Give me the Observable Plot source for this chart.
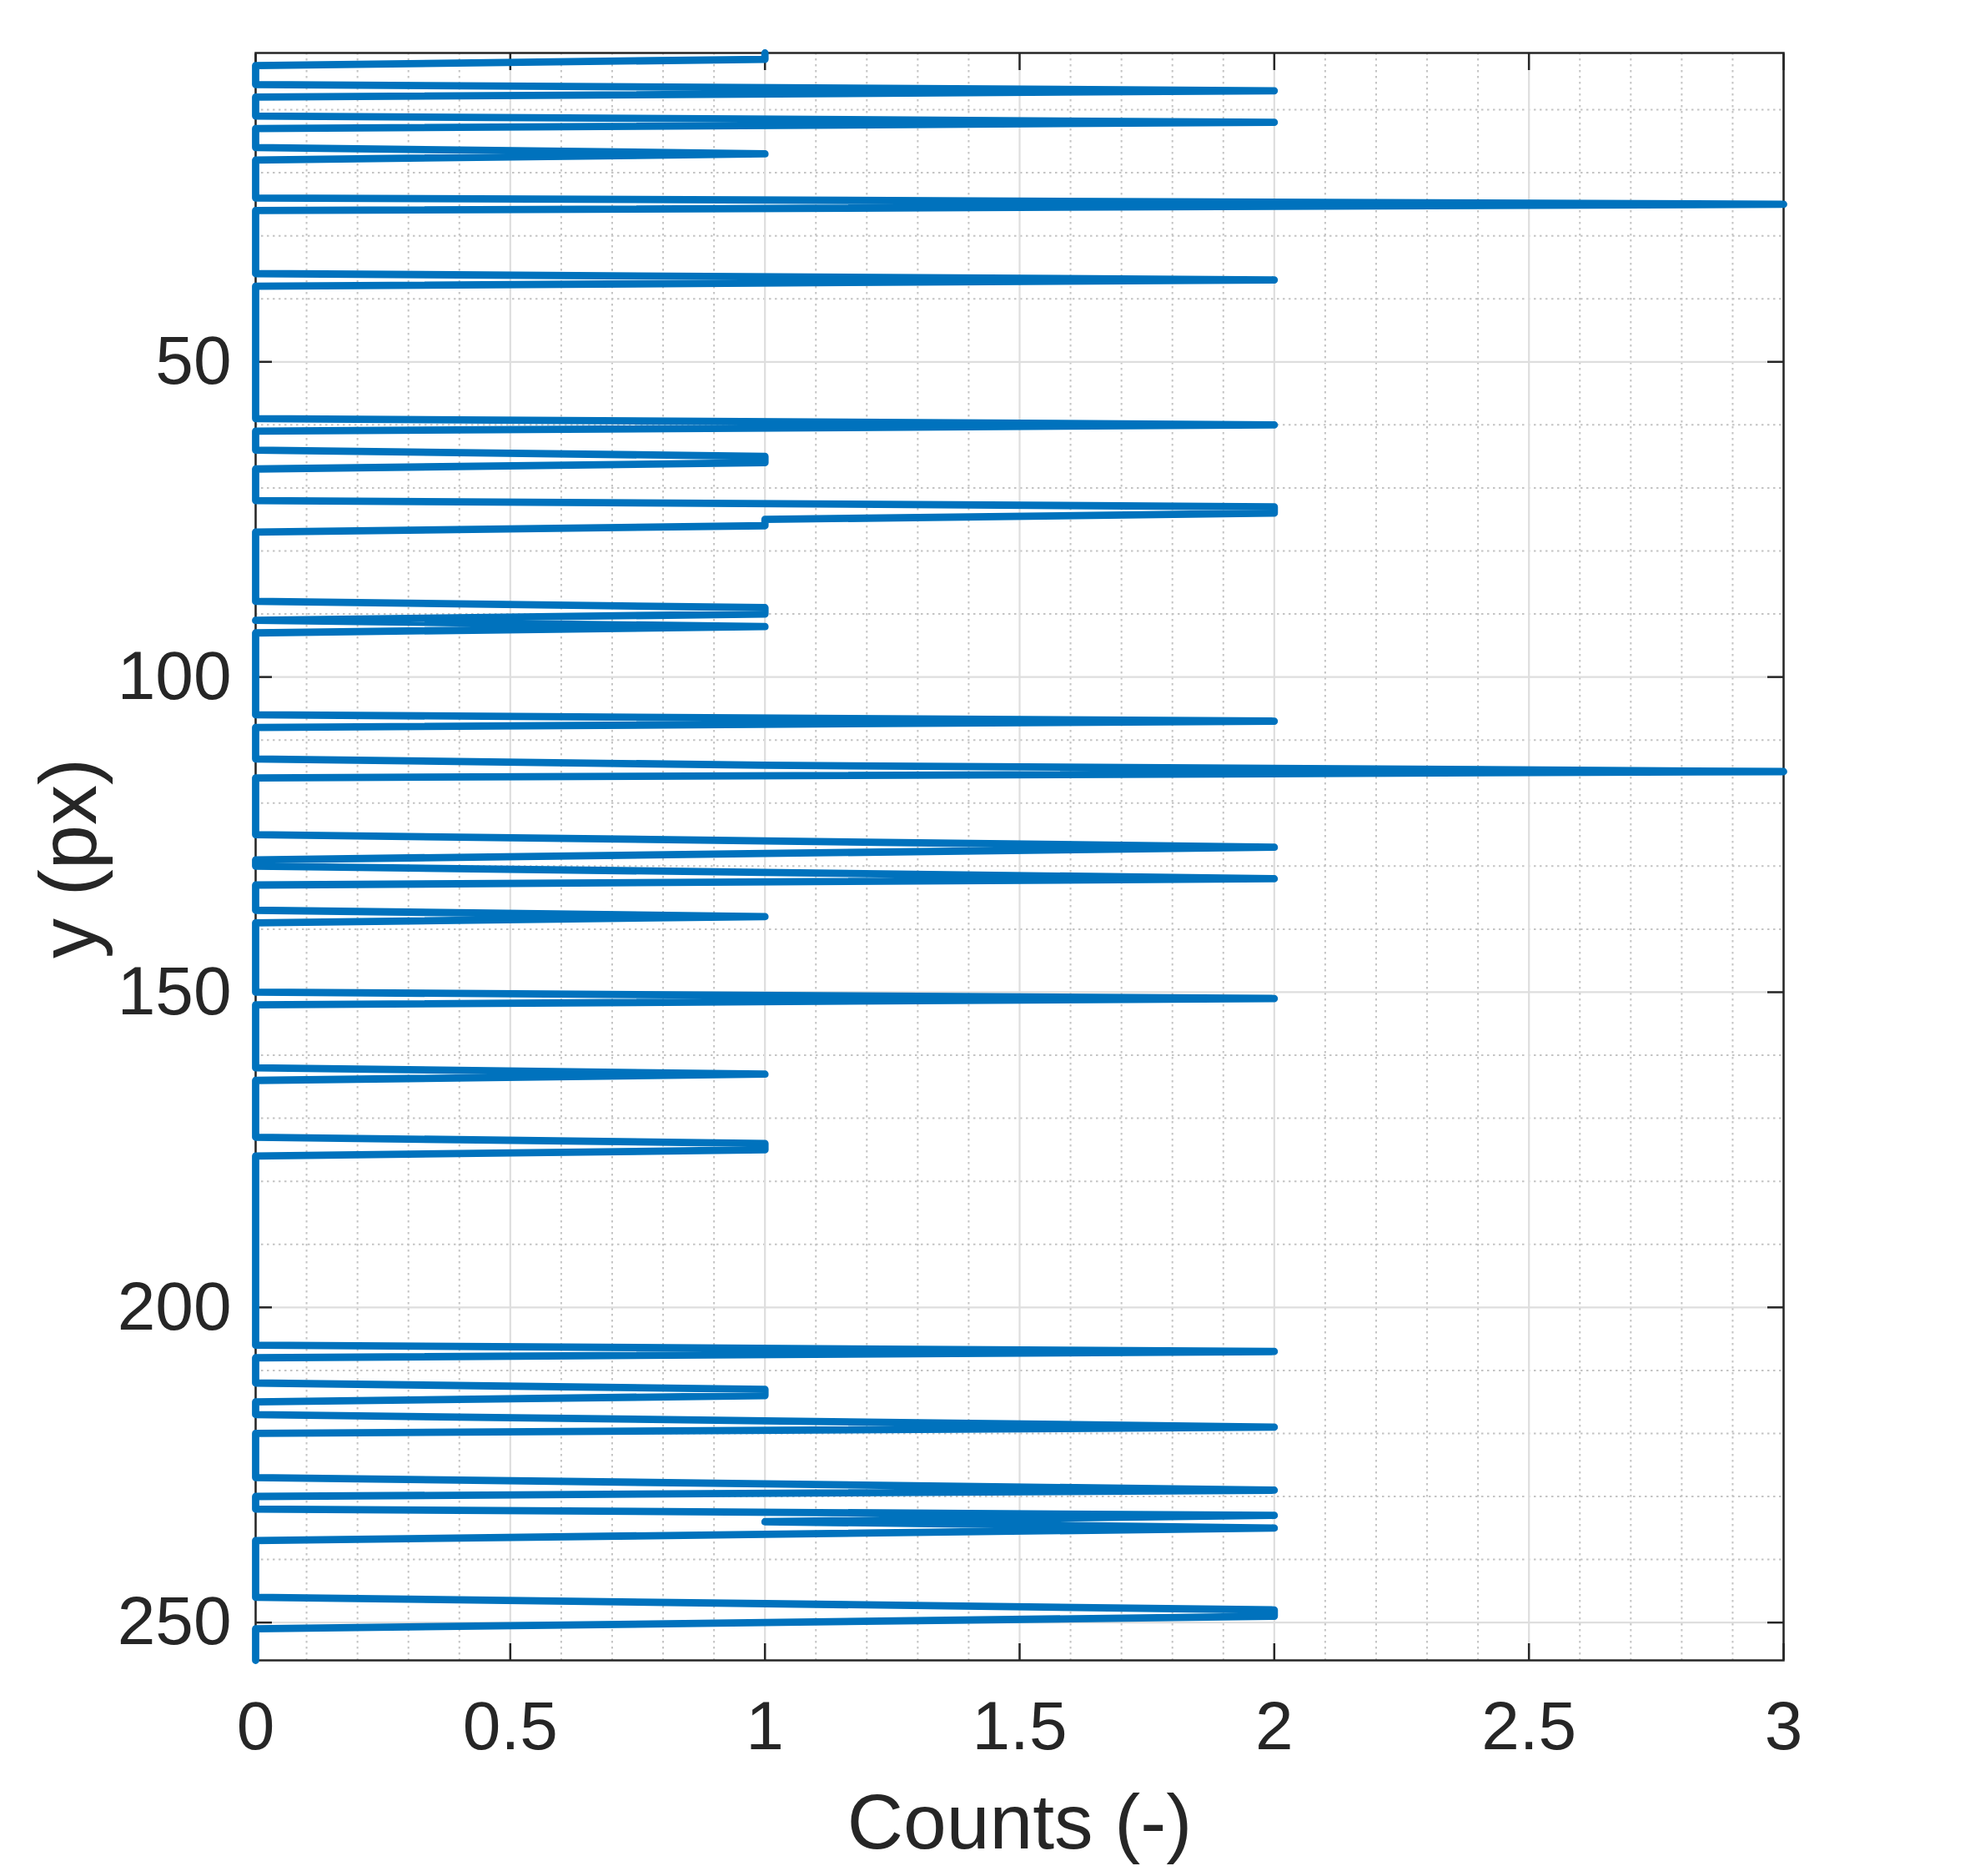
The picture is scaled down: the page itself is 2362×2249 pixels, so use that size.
<!DOCTYPE html>
<html>
<head>
<meta charset="utf-8">
<script src="https://cdn.jsdelivr.net/npm/d3@7"></script>
<script src="https://cdn.jsdelivr.net/npm/@observablehq/plot@0.6"></script>
<style>
  html, body { margin: 0; padding: 0; background: #ffffff; }
  #chart svg { display: block; }
</style>
</head>
<body>
<div id="chart"></div>
<script>
// ---- data: nonzero counts per image row (all other rows are 0) ----
const spikeRows   = [1, 2, 7, 12, 17, 25, 37, 60, 65, 66, 73, 74, 75, 76, 89, 90, 92, 107, 114, 115,
                     126, 127, 128, 131, 132, 138, 151, 163, 174, 175, 207, 213, 214, 218, 219,
                     228, 229, 233, 234, 235, 236, 247, 248, 249, 250];
const spikeCounts = [1, 1, 2, 2, 1, 3, 2, 2, 1, 1, 2, 2, 1, 1, 1, 1, 1, 2, 1, 3,
                     1, 2, 1, 1, 2, 1, 2, 1, 1, 1, 2, 1, 1, 1, 2,
                     1, 2, 2, 1, 2, 1, 1, 2, 2, 1];
const rowFirst = 1;
const rowLast = 256;

// ---- ticks & labels ----
const xTicks = [0, 0.5, 1, 1.5, 2, 2.5, 3];
const yTicks = [50, 100, 150, 200, 250];
const xMinorTicks = [0.1, 0.2, 0.3, 0.4, 0.6, 0.7, 0.8, 0.9, 1.1, 1.2, 1.3, 1.4, 1.6, 1.7, 1.8, 1.9,
                     2.1, 2.2, 2.3, 2.4, 2.6, 2.7, 2.8, 2.9];
const yMinorTicks = [10, 20, 30, 40, 60, 70, 80, 90, 110, 120, 130, 140, 160, 170, 180, 190,
                     210, 220, 230, 240];
const xLabel = "Counts (-)";
const yLabel = "y (px)";

// ---- build the table ----
const countByRow = new Map(spikeRows.map((r, i) => [r, spikeCounts[i]]));
const profile = d3.range(rowFirst, rowLast + 1).map(y => ({ y, count: countByRow.get(y) ?? 0 }));

const ink = "#262626";
const font = "'Liberation Sans', Arial, Helvetica, sans-serif";
const tickStyle = { fill: "none", stroke: ink, strokeWidth: 2.5, label: null };

const chart = Plot.plot({
  width: 2362,
  height: 2249,
  marginTop: 63,
  marginRight: 224,
  marginBottom: 259,
  marginLeft: 306,
  style: { fontFamily: font, background: "#ffffff", color: ink },
  x: { domain: [0, 3] },
  y: { domain: [rowFirst, rowLast], reverse: true },
  marks: [
    Plot.gridX(xMinorTicks, { stroke: "#c4c4c4", strokeOpacity: 1, strokeWidth: 2, strokeDasharray: "2.5,4.5" }),
    Plot.gridY(yMinorTicks, { stroke: "#c4c4c4", strokeOpacity: 1, strokeWidth: 2, strokeDasharray: "2.5,4.5" }),
    Plot.gridX(xTicks, { stroke: "#dedede", strokeOpacity: 1, strokeWidth: 2.2 }),
    Plot.gridY(yTicks, { stroke: "#dedede", strokeOpacity: 1, strokeWidth: 2.2 }),
    Plot.frame({ stroke: ink, strokeWidth: 2.5 }),
    Plot.axisX(xTicks, { anchor: "bottom", tickSize: 0, tickPadding: 48, fontSize: 82, fill: ink, label: null, tickFormat: d => String(d) }),
    Plot.axisY(yTicks, { anchor: "left", tickSize: 0, tickPadding: 29, fontSize: 82, fill: ink, label: null, tickFormat: d => String(d) }),
    Plot.axisX(xTicks, { anchor: "bottom", tickSize: 20, dy: -20, ...tickStyle }),
    Plot.axisX(xTicks, { anchor: "top", tickSize: 20, dy: 20, ...tickStyle }),
    Plot.axisY(yTicks, { anchor: "left", tickSize: 20, dx: 20, ...tickStyle }),
    Plot.axisY(yTicks, { anchor: "right", tickSize: 20, dx: -20, ...tickStyle }),
    Plot.text([xLabel], { text: d => d, frameAnchor: "bottom", dy: 196, lineAnchor: "middle", fontSize: 93, fill: ink }),
    Plot.text([yLabel], { text: d => d, frameAnchor: "left", dx: -222, dy: 122, rotate: -90, lineAnchor: "middle", fontSize: 96, fill: ink }),
    Plot.line(profile, { x: "count", y: "y", stroke: "#0072BD", strokeWidth: 8.8, strokeLinejoin: "round", strokeLinecap: "round" })
  ]
});
document.getElementById("chart").appendChild(chart);
</script>
</body>
</html>
